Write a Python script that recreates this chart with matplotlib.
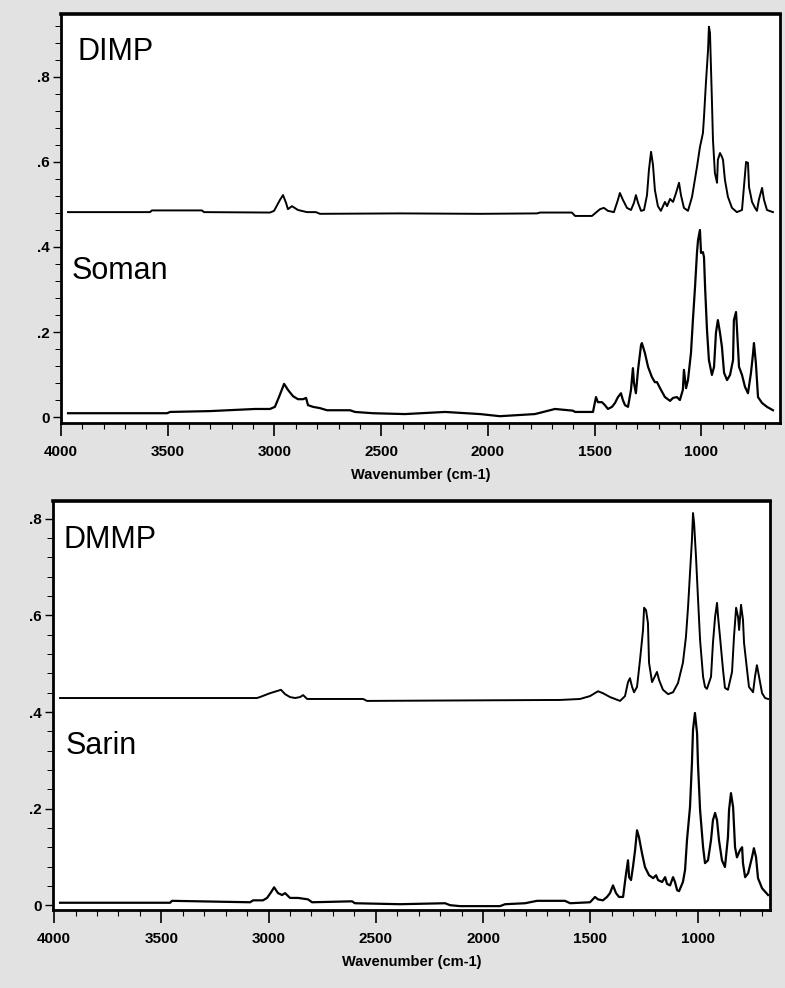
import matplotlib
matplotlib.use("Agg")
import matplotlib.pyplot as plt
from matplotlib.ticker import FixedLocator, MultipleLocator

plt.rcParams['font.family'] = ['Liberation Sans', 'DejaVu Sans']

# ---------------- data (wavenumber cm-1, absorbance) ----------------
dimp_wn = [3967, 3583, 3574, 3340, 3330, 3021, 3002, 2974, 2960, 2946, 2937, 2918, 2890, 2848, 2806, 2787,
           2412, 2037, 1770, 1756, 1607, 1592, 1513, 1475, 1457, 1438, 1410, 1391, 1382, 1368, 1349, 1330,
           1316, 1307, 1297, 1283, 1269, 1255, 1246, 1236, 1227, 1218, 1204, 1190, 1171, 1161, 1147, 1133,
           1119, 1105, 1096, 1082, 1063, 1044, 1021, 1007, 993, 988, 979, 969, 965, 960, 951, 946, 937, 927,
           923, 913, 904, 899, 890, 876, 857, 834, 810, 801, 791, 782, 777, 763, 749, 740, 731, 716, 707, 693, 665]
dimp_ab = [0.482, 0.482, 0.486, 0.486, 0.482, 0.481, 0.485, 0.511, 0.522, 0.504, 0.489, 0.496, 0.487, 0.482, 0.482, 0.478,
           0.479, 0.478, 0.479, 0.481, 0.481, 0.473, 0.473, 0.489, 0.492, 0.485, 0.482, 0.511, 0.527, 0.511, 0.492, 0.487,
           0.504, 0.522, 0.504, 0.485, 0.487, 0.522, 0.581, 0.624, 0.593, 0.534, 0.496, 0.485, 0.506, 0.496, 0.513, 0.506,
           0.527, 0.551, 0.522, 0.492, 0.485, 0.518, 0.588, 0.635, 0.668, 0.706, 0.786, 0.864, 0.918, 0.904, 0.746, 0.652, 0.574, 0.551,
           0.605, 0.621, 0.612, 0.605, 0.558, 0.518, 0.492, 0.482, 0.487, 0.541, 0.600, 0.598, 0.541, 0.506, 0.492, 0.485, 0.511, 0.539, 0.511, 0.487, 0.482]

soman_wn = [3967, 3503, 3489, 3302, 3091, 3021, 2998, 2979, 2955, 2937, 2913, 2890, 2866, 2852, 2843, 2820, 2787, 2754,
            2646, 2623, 2539, 2389, 2201, 2037, 1944, 1780, 1686, 1602, 1592, 1508, 1494, 1485, 1466, 1452, 1438, 1419,
            1405, 1391, 1377, 1368, 1358, 1344, 1330, 1321, 1316, 1307, 1297, 1283, 1279, 1265, 1250, 1232, 1218, 1208,
            1194, 1171, 1147, 1133, 1115, 1101, 1087, 1082, 1072, 1063, 1049, 1040, 1030, 1021, 1016, 1007, 1002, 993, 988,
            983, 974, 965, 951, 941, 932, 923, 913, 904, 894, 880, 866, 852, 848, 838, 834, 824, 810, 796, 782, 768, 759,
            754, 745, 735, 716, 693, 665]
soman_ab = [0.009, 0.009, 0.012, 0.014, 0.019, 0.019, 0.024, 0.047, 0.078, 0.064, 0.049, 0.042, 0.042, 0.045, 0.028, 0.024, 0.021, 0.016,
            0.016, 0.012, 0.009, 0.007, 0.012, 0.007, 0.002, 0.007, 0.019, 0.015, 0.012, 0.012, 0.047, 0.035, 0.035, 0.028, 0.019, 0.024,
            0.033, 0.047, 0.056, 0.040, 0.028, 0.024, 0.064, 0.115, 0.080, 0.056, 0.111, 0.169, 0.174, 0.151, 0.118, 0.094, 0.082, 0.082,
            0.068, 0.047, 0.038, 0.045, 0.047, 0.040, 0.064, 0.111, 0.068, 0.087, 0.151, 0.228, 0.306, 0.386, 0.416, 0.440, 0.386, 0.388, 0.376,
            0.306, 0.205, 0.134, 0.099, 0.118, 0.198, 0.228, 0.198, 0.165, 0.104, 0.087, 0.099, 0.134, 0.228, 0.247, 0.212, 0.118, 0.099, 0.071, 0.056, 0.104, 0.146,
            0.174, 0.127, 0.047, 0.033, 0.024, 0.016]

dmmp_wn = [3972, 3054, 3040, 2993, 2942, 2923, 2900, 2876, 2853, 2839, 2820, 2793, 2559, 2541, 1641, 1548, 1501, 1464,
           1441, 1408, 1361, 1338, 1324, 1315, 1305, 1296, 1282, 1268, 1254, 1249, 1240, 1231, 1226, 1212, 1203, 1189,
           1179, 1161, 1137, 1114, 1091, 1068, 1054, 1044, 1035, 1026, 1021, 1016, 1007, 998, 988, 974, 965, 956, 937,
           928, 918, 909, 904, 895, 881, 872, 858, 839, 830, 820, 811, 806, 797, 788, 783, 769, 760, 741, 732, 723, 713,
           699, 685, 671]
dmmp_ab = [0.429, 0.429, 0.431, 0.439, 0.446, 0.437, 0.431, 0.429, 0.431, 0.435, 0.427, 0.427, 0.427, 0.423, 0.425, 0.427, 0.433, 0.443,
           0.439, 0.431, 0.423, 0.433, 0.462, 0.470, 0.452, 0.441, 0.452, 0.508, 0.570, 0.616, 0.611, 0.584, 0.502, 0.462, 0.470, 0.483,
           0.466, 0.446, 0.437, 0.441, 0.460, 0.502, 0.555, 0.618, 0.688, 0.756, 0.812, 0.792, 0.721, 0.638, 0.549, 0.473, 0.452, 0.448, 0.473,
           0.543, 0.597, 0.626, 0.597, 0.555, 0.487, 0.450, 0.446, 0.483, 0.555, 0.616, 0.597, 0.570, 0.622, 0.591, 0.543, 0.487, 0.452, 0.441, 0.473, 0.497, 0.473,
           0.439, 0.429, 0.427]

sarin_wn = [3972, 3459, 3450, 3086, 3072, 3026, 3007, 2988, 2974, 2956, 2937, 2923, 2900, 2862, 2816, 2797, 2611, 2597,
            2387, 2177, 2154, 2107, 1921, 1897, 1804, 1748, 1618, 1594, 1501, 1478, 1464, 1441, 1422, 1408, 1394, 1380,
            1366, 1347, 1333, 1324, 1319, 1310, 1301, 1291, 1282, 1273, 1259, 1245, 1226, 1207, 1193, 1184, 1165, 1151,
            1142, 1128, 1114, 1105, 1095, 1086, 1068, 1058, 1049, 1035, 1026, 1021, 1012, 1002, 998, 988, 974, 965, 951,
            937, 928, 918, 909, 900, 886, 872, 858, 853, 844, 834, 825, 816, 802, 792, 788, 778, 764, 746, 737, 727, 718,
            699, 671]
sarin_ab = [0.005, 0.005, 0.009, 0.006, 0.010, 0.010, 0.015, 0.027, 0.037, 0.025, 0.021, 0.025, 0.015, 0.015, 0.012, 0.006, 0.008, 0.004,
            0.002, 0.004, 0.000, -0.002, -0.002, 0.002, 0.004, 0.009, 0.009, 0.004, 0.006, 0.017, 0.012, 0.010, 0.017, 0.025, 0.041, 0.025,
            0.017, 0.017, 0.066, 0.093, 0.058, 0.052, 0.079, 0.114, 0.155, 0.141, 0.108, 0.079, 0.062, 0.056, 0.062, 0.052, 0.048, 0.058,
            0.044, 0.041, 0.058, 0.048, 0.031, 0.029, 0.048, 0.073, 0.135, 0.203, 0.294, 0.363, 0.398, 0.356, 0.294, 0.197, 0.120, 0.087, 0.093,
            0.135, 0.176, 0.191, 0.176, 0.135, 0.093, 0.079, 0.141, 0.197, 0.232, 0.203, 0.120, 0.099, 0.114, 0.120, 0.087, 0.058, 0.066, 0.099, 0.118, 0.099, 0.056,
            0.035, 0.021]

x_ticks = [4000, 3500, 3000, 2500, 2000, 1500, 1000]
x_tick_labels = ["4000", "3500", "3000", "2500", "2000", "1500", "1000"]
y_ticks_top = [0, 0.2, 0.4, 0.6, 0.8]
y_tick_labels_top = ["0", ".2", ".4", ".6", ".8"]
y_ticks_bot = [0, 0.2, 0.4, 0.6, 0.8]
y_tick_labels_bot = ["0", ".2", ".4", ".6", ".8"]
x_label = "Wavenumber (cm-1)"

# ---------------- figure ----------------
W, H = 785, 988
fig = plt.figure(figsize=(W / 100, H / 100), dpi=100, facecolor='#e2e2e2')


def fx(px):
    return px / W


def fy(py):
    return 1 - py / H


def make_axes(l, r, t, b, xlim, ylim, yt, ytl):
    ax = fig.add_axes([fx(l), fy(b), fx(r) - fx(l), fy(t) - fy(b)])
    ax.set_facecolor('white')
    ax.set_xlim(*xlim)
    ax.set_ylim(*ylim)
    for s in ax.spines.values():
        s.set_linewidth(2.0)
        s.set_color('black')
    ax.spines['top'].set_linewidth(2.6)
    ax.xaxis.set_major_locator(FixedLocator(x_ticks))
    ax.set_xticklabels(x_tick_labels, fontsize=11, fontweight='bold')
    ax.xaxis.set_minor_locator(MultipleLocator(100))
    ax.yaxis.set_major_locator(FixedLocator(yt))
    ax.set_yticklabels(ytl, fontsize=11, fontweight='bold')
    ax.yaxis.set_minor_locator(MultipleLocator(0.04))
    ax.tick_params(axis='x', which='major', direction='out', length=9, width=1.2, pad=7)
    ax.tick_params(axis='x', which='minor', direction='out', length=4, width=0.8)
    ax.tick_params(axis='y', which='major', direction='out', length=6, width=1.0, pad=2)
    ax.tick_params(axis='y', which='minor', direction='out', length=4, width=0.7)
    ax.set_xlabel(x_label, fontsize=10.5, fontweight='bold', labelpad=6)
    return ax


ax1 = make_axes(61, 780, 14, 423, (4000, 632), (-0.014, 0.948), y_ticks_top, y_tick_labels_top)
ax2 = make_axes(53, 770, 501, 910, (4005, 662), (-0.010, 0.837), y_ticks_bot, y_tick_labels_bot)

ax1.plot(dimp_wn, dimp_ab, color='black', lw=1.4)
ax1.plot(soman_wn, soman_ab, color='black', lw=1.6)
ax2.plot(dmmp_wn, dmmp_ab, color='black', lw=1.4)
ax2.plot(sarin_wn, sarin_ab, color='black', lw=1.6)

fig.text(fx(77), fy(60), "DIMP", fontsize=22, ha='left', va='baseline')
fig.text(fx(72), fy(279), "Soman", fontsize=22, ha='left', va='baseline')
fig.text(fx(64), fy(548), "DMMP", fontsize=22, ha='left', va='baseline')
fig.text(fx(66), fy(754), "Sarin", fontsize=22, ha='left', va='baseline')

fig.savefig("out.png", dpi=100, facecolor=fig.get_facecolor())
